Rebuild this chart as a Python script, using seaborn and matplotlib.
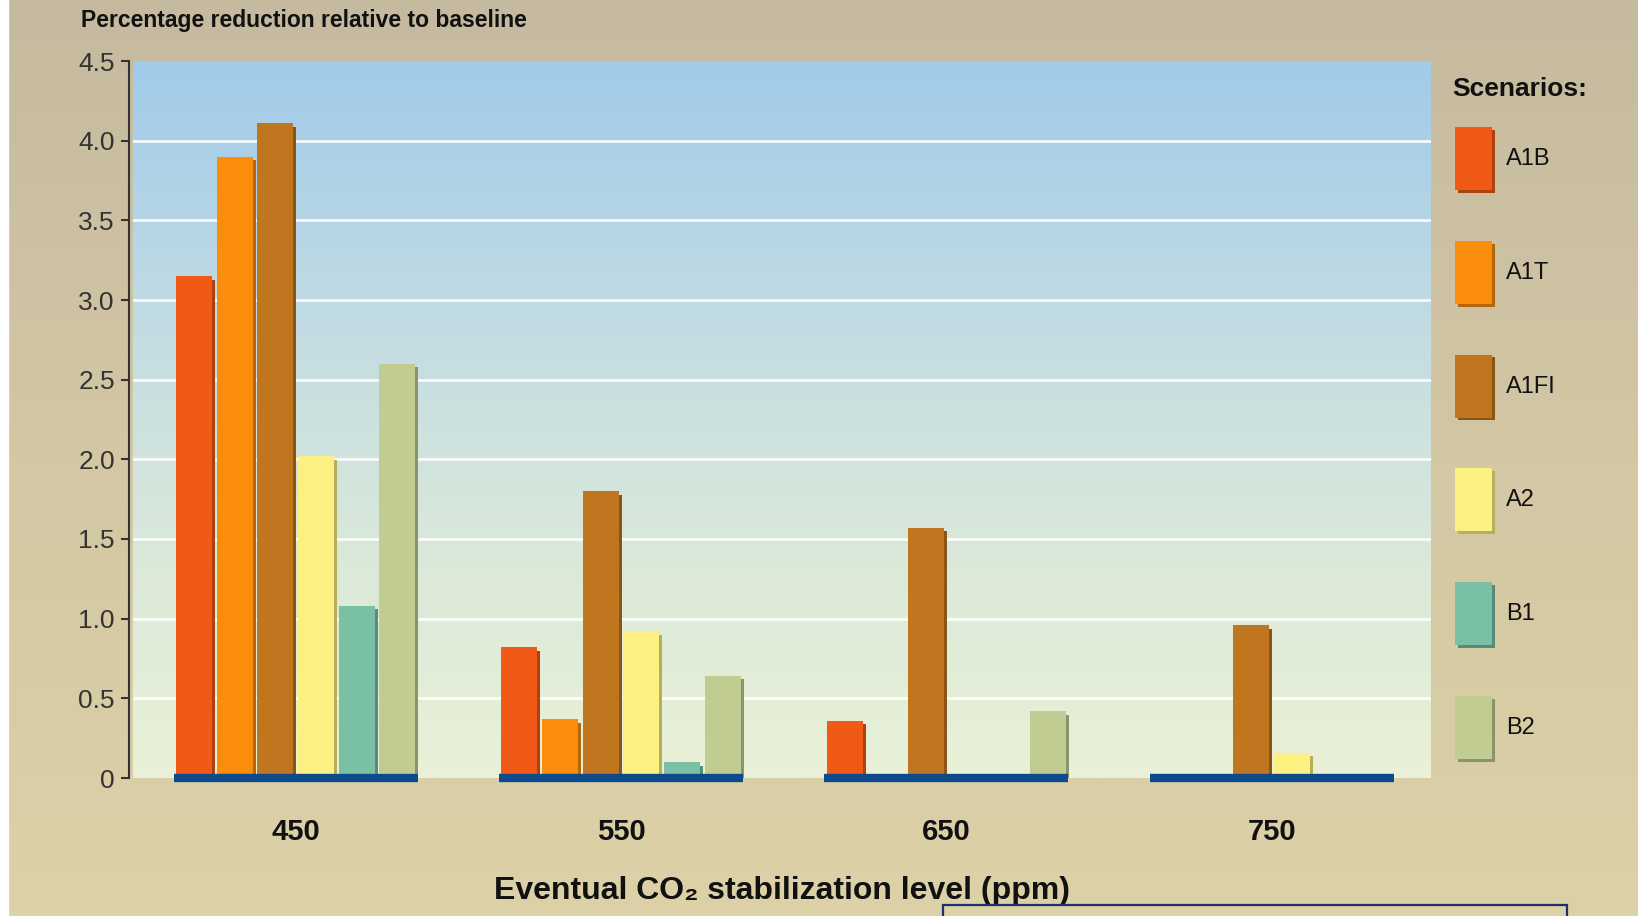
import numpy as np
import pandas as pd
import matplotlib
matplotlib.use("Agg")
import matplotlib.pyplot as plt
import matplotlib.patches as mpatches
import matplotlib.patheffects as pe
from matplotlib.colors import LinearSegmentedColormap, to_rgb
import seaborn as sns

# Stabilization levels (ppm) and emission scenarios
levels = ["450", "550", "650", "750"]
scenarios = ["A1B", "A1T", "A1FI", "A2", "B1", "B2"]

# Percentage reduction relative to baseline, per scenario
a1b = [3.15, 0.82, 0.36, 0.00]
a1t = [3.90, 0.37, 0.02, 0.00]
a1fi = [4.11, 1.80, 1.57, 0.96]
a2 = [2.02, 0.92, 0.00, 0.16]
b1 = [1.08, 0.10, 0.00, 0.00]
b2 = [2.60, 0.64, 0.42, 0.00]

yticks = [0, 0.5, 1.0, 1.5, 2.0, 2.5, 3.0, 3.5, 4.0, 4.5]
ytick_labels = ["0", "0.5", "1.0", "1.5", "2.0", "2.5", "3.0", "3.5", "4.0", "4.5"]

colors = ["#f05a16", "#fa8d0c", "#bf761e", "#fcf180", "#79c0a5", "#c1cc93"]

series = dict(zip(scenarios, [a1b, a1t, a1fi, a2, b1, b2]))
df = pd.DataFrame(
    [(lvl, sc, v) for sc, vals in series.items() for lvl, v in zip(levels, vals)],
    columns=["level", "scenario", "value"],
)

sns.set_theme(style="white")
plt.rcParams["font.family"] = ["Liberation Sans", "DejaVu Sans"]


def darker(c, f=0.72):
    r, g, b = to_rgb(c)
    return (r * f, g * f, b * f)


W, H = 1638, 916
fig = plt.figure(figsize=(W / 100, H / 100), dpi=100)

# Tan figure background
bg = fig.add_axes([0, 0, 1, 1], zorder=-10)
bg_cmap = LinearSegmentedColormap.from_list("bg", ["#c5ba9f", "#d3c7a4", "#ddd1a7"])
bg.imshow(np.linspace(0, 1, 256).reshape(-1, 1), cmap=bg_cmap, aspect="auto",
          extent=[0, 1, 0, 1])
bg.set_xlim(0, 1)
bg.set_ylim(0, 1)
bg.axis("off")
fig.patches.append(mpatches.Rectangle((0, 0), 8 / W, 1, transform=fig.transFigure,
                                      color="white", zorder=-5))

left, right, top, bottom = 133, 1431, 61, 778
ax = fig.add_axes([left / W, 1 - bottom / H, (right - left) / W, (bottom - top) / H])
ax.set_facecolor("none")

# Sky-to-cream gradient inside the plotting area
plot_cmap = LinearSegmentedColormap.from_list(
    "sky", [(0.0, "#e9f1d7"), (0.3, "#dbe9d9"), (0.6, "#c5dde2"), (1.0, "#a1cbea")]
)
ax.imshow(np.linspace(0, 1, 256).reshape(-1, 1), cmap=plot_cmap, aspect="auto",
          extent=[0, 1, 0, 1], origin="lower", transform=ax.transAxes, zorder=0.1)

for y in yticks[1:-1]:
    ax.axhline(y, color="white", lw=1.8, zorder=0.5)

sns.barplot(data=df, x="level", y="value", hue="scenario", order=levels,
            hue_order=scenarios, palette=colors, saturation=1, width=0.75, gap=0.12,
            legend=False, ax=ax, zorder=3)

for bar in ax.patches:
    fc = bar.get_facecolor()
    bar.set_edgecolor("none")
    bar.set_path_effects([
        pe.SimplePatchShadow(offset=(2.2, -2.5), shadow_rgbFace=darker(fc), alpha=1.0),
        pe.Normal(),
    ])

# Dark blue base line under each group
for i, _ in enumerate(levels):
    ax.hlines(0, i - 0.375, i + 0.375, color="#0d4a8c", lw=6, zorder=5,
              clip_on=False, capstyle="butt")

ax.set_xlim(-0.5, 3.49)
ax.set_ylim(0, 4.5)
ax.set_yticks(yticks)
ax.set_yticklabels(ytick_labels)

for s in ["top", "right", "bottom"]:
    ax.spines[s].set_visible(False)
ax.spines["left"].set_color("#333333")
ax.spines["left"].set_linewidth(1.5)
ax.spines["left"].set_position(("outward", 3))

ax.tick_params(axis="y", direction="out", length=6, width=1.5, color="#333333",
               labelsize=19, labelcolor="#333333", pad=4, left=True)
ax.tick_params(axis="x", length=0, pad=29, labelsize=21, labelcolor="#111111")
for t in ax.get_xticklabels():
    t.set_fontweight("bold")

ax.set_ylabel("")
ax.set_xlabel("Eventual CO\u2082 stabilization level (ppm)", fontsize=23,
              fontweight="bold", color="#111111")
ax.xaxis.set_label_coords(0.5, (H - 891 - (H - bottom)) / (bottom - top))
ax.xaxis.label.set_va("center")

fig.text(81 / W, 1 - 21 / H, "Percentage reduction relative to baseline",
         ha="left", va="center", fontsize=16.5, fontweight="bold", color="#111111")

# Legend: heading plus tall colour swatches
fig.text(1452 / W, 1 - 89 / H, "Scenarios:", ha="left", va="center",
         fontsize=19, fontweight="bold", color="#111111")
handles = [
    mpatches.Patch(facecolor=c, edgecolor="none", label=s,
                   path_effects=[pe.SimplePatchShadow(offset=(2, -2),
                                                      shadow_rgbFace=darker(c), alpha=1.0),
                                 pe.Normal()])
    for s, c in zip(scenarios, colors)
]
fig.legend(handles=handles, loc="upper left", bbox_to_anchor=(1455 / W, 1 - 127 / H),
           frameon=False, fontsize=17,
           handlelength=1.57, handleheight=3.73, labelspacing=2.15, handletextpad=0.6,
           borderpad=0, borderaxespad=0, labelcolor="#111111")

# Outlined box along the bottom edge
fig.patches.append(mpatches.Rectangle((943 / W, -0.02), (1567 - 943) / W, (H - 905) / H + 0.02,
                                      transform=fig.transFigure, fill=False,
                                      edgecolor="#1b2f6e", lw=1.6, zorder=10))

fig.savefig("out.png", dpi=100)
